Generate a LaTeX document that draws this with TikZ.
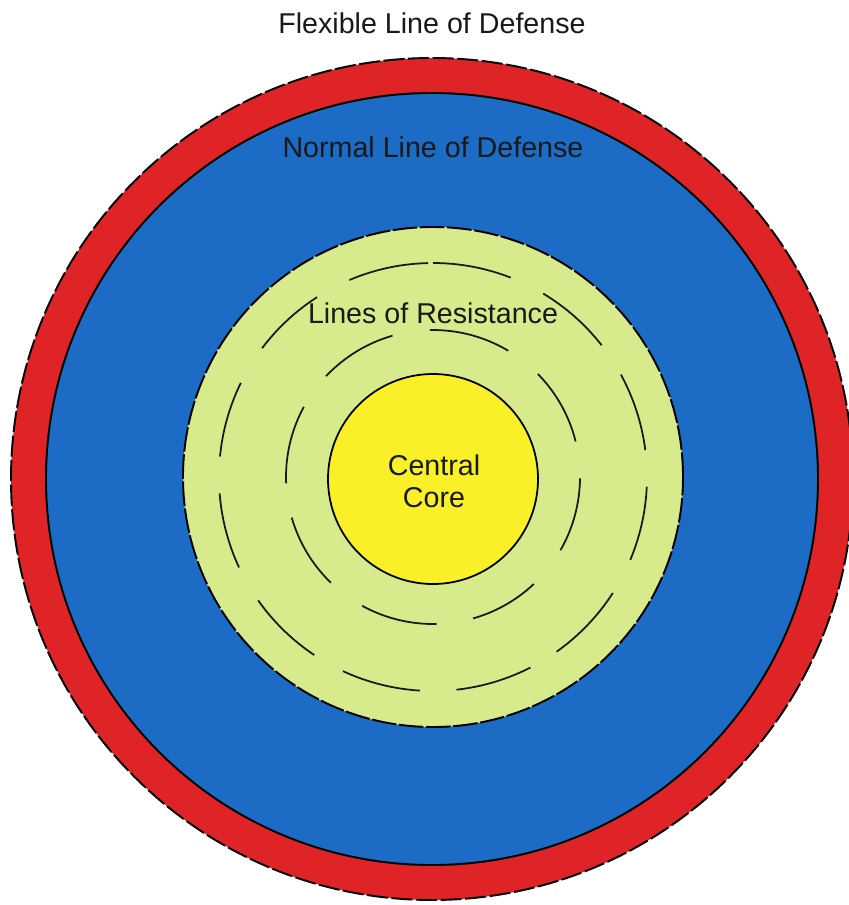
\documentclass[tikz,border=0pt]{standalone}
\usepackage{fontspec}
\setmainfont{Liberation Sans}
\definecolor{flexred}{RGB}{222,36,38}
\definecolor{normalblue}{RGB}{28,108,198}
\definecolor{resistgreen}{RGB}{216,235,140}
\definecolor{coreyellow}{RGB}{250,240,40}
\tikzset{
	label text/.style={font=\fontsize{16.3}{18.2}\selectfont, text=black!90, inner sep=0pt},
	ring line/.style={line width=1pt, color=black!90},
}

\begin{document}
\begin{tikzpicture}
		%%%%% START %%%%%
		\useasboundingbox (0, 0) rectangle (16.98, -18.1);
		\coordinate (center) at (8.64, -9.58);
		
		\draw[fill=flexred, line width=1.1pt, dash pattern=on 12pt off 2pt] (center) circle (8.42);
		\draw[fill=normalblue, line width=1.1pt] (center) circle (7.72);
		\draw[fill=resistgreen, line width=1.1pt, dash pattern=on 14pt off 1.5pt] (8.66, -9.54) circle (5.0);
		
		% lines of resistance
		\foreach \a/\b in {91.3/113, 68.7/90, 38/59, 7.2/28.6, -22.8/-2.6, -54.7/-32.8,
			-83.7/-62.9, -114.9/-93.5, -144.8/-123.7, -175.6/-155, 153.9/174.5, 122.8/143}
			\draw[ring line] (8.66, -9.54) ++(\a:4.28) arc (\a:\b:4.28);
		\foreach \a/\b in {106/136.7, 59.2/91.2, 14/44.5, -29.9/-0.5, -74.2/-46.7,
			-118.8/-88.6, -164/-134, 151.5/182.5}
			\draw[ring line] (8.66, -9.54) ++(\a:2.94) arc (\a:\b:2.94);
		
		\draw[fill=coreyellow, line width=1pt] (8.66, -9.58) circle (2.1);
		
		\node[label text] (flexible) at (8.64, -0.46) {Flexible Line of Defense};
		\node[label text] (normal) at (8.66, -2.94) {Normal Line of Defense};
		\node[label text] (resistance) at (8.66, -6.26) {Lines of Resistance};
		\node[label text, align=center] (core) at (8.68, -9.62) {Central\\Core};
		%%%%% END %%%%%
	\end{tikzpicture}
\end{document}
